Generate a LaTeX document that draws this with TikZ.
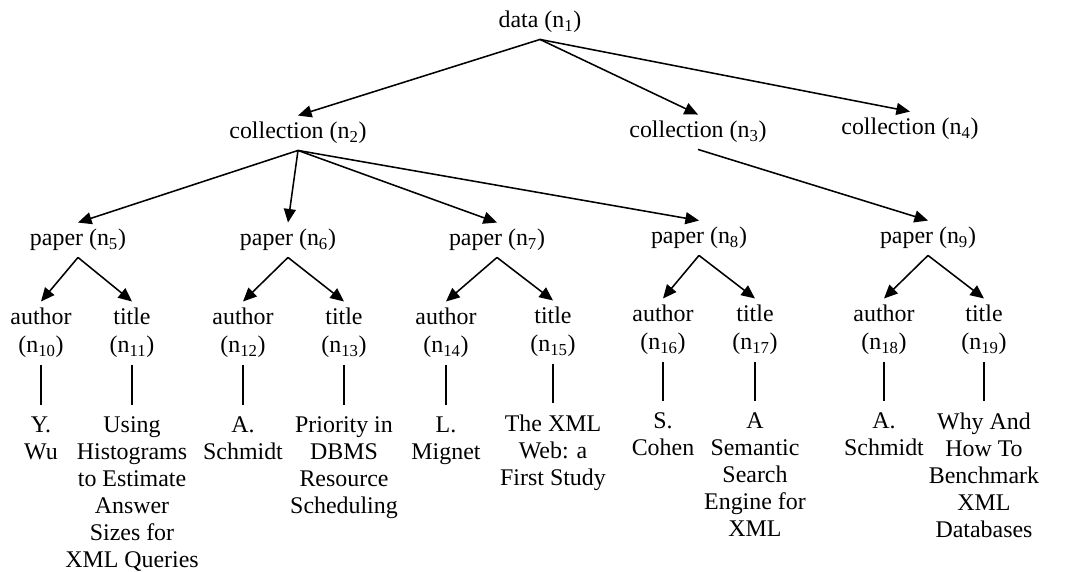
\documentclass[tikz,border=0pt]{standalone}
\usepackage{fontspec}
\setmainfont{Liberation Serif}
\usetikzlibrary{arrows.meta}

\tikzset{
  lbl/.style={font=\fontsize{17}{20}\selectfont, inner sep=4.5pt},
  field/.style={lbl, align=center},
  leaf/.style={lbl, align=center, anchor=north, inner xsep=2pt, inner ysep=8pt, font=\fontsize{17}{19.2}\selectfont},
  link/.style={-{Triangle[length=0.34cm,width=0.3cm]}, line width=1.1pt},
  stem/.style={line width=1.1pt},
}

\begin{document}
\begin{tikzpicture}[x=0.025cm, y=-0.025cm]
    \useasboundingbox (0,0) rectangle (1073,572);
    \node [lbl] (n1) at (540,22) {data (n\textsubscript{1})};
    \node [lbl] (n2) at (298,133) {collection (n\textsubscript{2})};
    \node [lbl] (n3) at (698,132) {collection (n\textsubscript{3})};
    \node [lbl] (n4) at (910,129) {collection (n\textsubscript{4})};
    \node [lbl] (n5) at (78,240) {paper (n\textsubscript{5})};
    \node [lbl] (n6) at (288,240) {paper (n\textsubscript{6})};
    \node [lbl] (n7) at (497,240) {paper (n\textsubscript{7})};
    \node [lbl] (n8) at (699,238) {paper (n\textsubscript{8})};
    \node [lbl] (n9) at (928,238) {paper (n\textsubscript{9})};
    \node [field] (n10) at (41,333) {author\\(n\textsubscript{10})};
    \node [field] (n11) at (132,333) {title\\(n\textsubscript{11})};
    \node [field] (n12) at (243,333) {author\\(n\textsubscript{12})};
    \node [field] (n13) at (344,333) {title\\(n\textsubscript{13})};
    \node [field] (n14) at (446,333) {author\\(n\textsubscript{14})};
    \node [field] (n15) at (553,332) {title\\(n\textsubscript{15})};
    \node [field] (n16) at (663,330) {author\\(n\textsubscript{16})};
    \node [field] (n17) at (755,330) {title\\(n\textsubscript{17})};
    \node [field] (n18) at (884,330) {author\\(n\textsubscript{18})};
    \node [field] (n19) at (984,330) {title\\(n\textsubscript{19})};
    \node [leaf] (v10) at (41,405) {Y.\\Wu};
    \node [leaf] (v11) at (132,405) {Using\\Histograms\\to Estimate\\Answer\\Sizes for\\XML Queries};
    \node [leaf] (v12) at (243,405) {A.\\Schmidt};
    \node [leaf] (v13) at (344,405) {Priority in\\DBMS\\Resource\\Scheduling};
    \node [leaf] (v14) at (446,405) {L.\\Mignet};
    \node [leaf] (v15) at (553,403) {The XML\\Web: a\\First Study};
    \node [leaf] (v16) at (663,401) {S.\\Cohen};
    \node [leaf] (v17) at (755,401) {A\\Semantic\\Search\\Engine for\\XML};
    \node [leaf] (v18) at (884,401) {A.\\Schmidt};
    \node [leaf] (v19) at (984,401) {Why And\\How To\\Benchmark\\XML\\Databases};
    \draw[link] (n1.south) -- (n2.north);
    \draw[link] (n1.south) -- (n3.north);
    \draw[link] (n1.south) -- (n4.north);
    \draw[link] (n2.south) -- (n5.north);
    \draw[link] (n2.south) -- (n6.north);
    \draw[link] (n2.south) -- (n7.north);
    \draw[link] (n2.south) -- (n8.north);
    \draw[link] (n3.south) -- (n9.north);
    \draw[link] (n5.south) -- (n10.north);
    \draw[link] (n5.south) -- (n11.north);
    \draw[link] (n6.south) -- (n12.north);
    \draw[link] (n6.south) -- (n13.north);
    \draw[link] (n7.south) -- (n14.north);
    \draw[link] (n7.south) -- (n15.north);
    \draw[link] (n8.south) -- (n16.north);
    \draw[link] (n8.south) -- (n17.north);
    \draw[link] (n9.south) -- (n18.north);
    \draw[link] (n9.south) -- (n19.north);
    \draw[stem] (n10.south) -- (v10.north);
    \draw[stem] (n11.south) -- (v11.north);
    \draw[stem] (n12.south) -- (v12.north);
    \draw[stem] (n13.south) -- (v13.north);
    \draw[stem] (n14.south) -- (v14.north);
    \draw[stem] (n15.south) -- (v15.north);
    \draw[stem] (n16.south) -- (v16.north);
    \draw[stem] (n17.south) -- (v17.north);
    \draw[stem] (n18.south) -- (v18.north);
    \draw[stem] (n19.south) -- (v19.north);
\end{tikzpicture}
\end{document}
